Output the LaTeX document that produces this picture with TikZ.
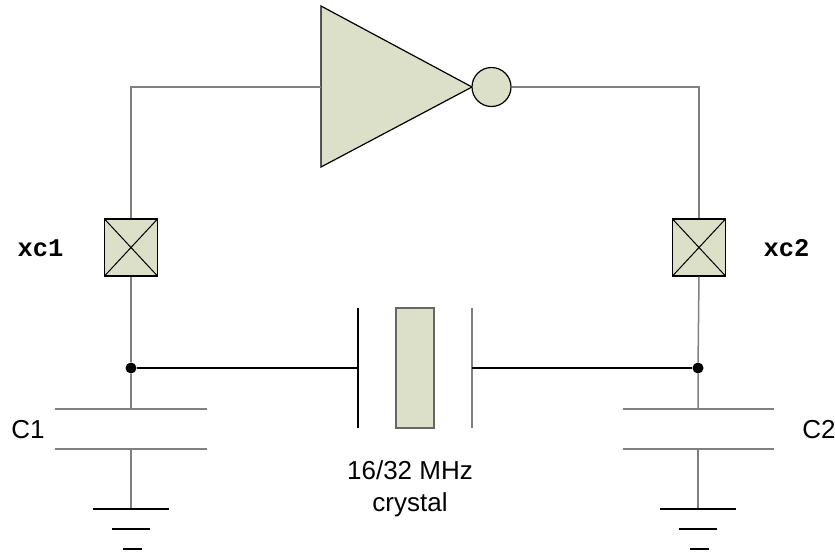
\documentclass[tikz,border=0pt]{standalone}
\usepackage{fontspec}
\setmainfont{Liberation Sans}
\setmonofont{Liberation Mono}
\begin{document}
\begin{tikzpicture}[x=1pt,y=-1pt,
  wire/.style={draw=wiregray,line width=1.5pt},
  bwire/.style={draw=black,line width=1.3pt},
  sym/.style={draw=black,fill=symfill,line width=1.2pt},
  pad/.style={sym,rectangle,minimum width=53pt,minimum height=57pt,inner sep=0pt,
    path picture={\draw[black,line width=1pt] (path picture bounding box.north west) -- (path picture bounding box.south east)
      (path picture bounding box.north east) -- (path picture bounding box.south west);}},
  bubble/.style={sym,circle,minimum size=39pt,inner sep=0pt},
  dotnode/.style={circle,fill=black,minimum size=11pt,inner sep=0pt},
  lbl/.style={font=\fontsize{26}{30}\selectfont,inner sep=0pt},
  pinlbl/.style={font=\fontsize{25.5}{28}\selectfont\ttfamily\bfseries,inner sep=0pt},
]
\definecolor{wiregray}{RGB}{128,128,128}
\definecolor{symfill}{RGB}{220,224,200}
\useasboundingbox (0,0) rectangle (835,552);

% inverter
\coordinate (inl) at (321,87);
\draw[sym] (321,6) -- (472,87) -- (321,167) -- cycle;
\node[bubble] (bub) at (491.5,87) {};

% pads
\node[pad] (p1) at (131,247.5) {};
\node[pad] (p2) at (699,247.5) {};
\node[pinlbl] (l1) at (40.5,248) {xc1};
\node[pinlbl] (l2) at (786.5,248) {xc2};

% top wires
\draw[wire] (p1.north) |- (inl);
\draw[wire] (bub.east) -| (p2.north);

% junctions
\node[dotnode] (d1) at (131,368) {};
\node[dotnode] (d2) at (698,368) {};

% capacitors
\coordinate (c1t) at (131,409);
\coordinate (c1b) at (131,449);
\coordinate (c2t) at (698,409);
\coordinate (c2b) at (698,449);
\draw[wire] (p1.south) -- (d1) -- (c1t);
\draw[wire] (p2.south) -- (d2) -- (c2t);
\draw[wire] (55,409) -- (207,409);
\draw[wire] (55,449) -- (207,449);
\draw[wire] (623,409) -- (774,409);
\draw[wire] (623,449) -- (774,449);
\node[lbl] (cl1) at (28,430) {C1};
\node[lbl] (cl2) at (819,430) {C2};

% grounds
\coordinate (g1) at (131,509);
\coordinate (g2) at (698,509);
\draw[wire] (c1b) -- (g1);
\draw[wire] (c2b) -- (g2);
\draw[bwire] (93,509) -- (169,509) (112,529) -- (150,529) (123,549) -- (142,549);
\draw[bwire] (660,509) -- (736,509) (679,529) -- (717,529) (690,549) -- (709,549);

% crystal
\coordinate (xl) at (358,368);
\coordinate (xr) at (472,368);
\draw[bwire] (358,308) -- (358,428);
\draw[wire] (472,308) -- (472,428);
\node[sym,draw=black!60,rectangle,minimum width=38pt,minimum height=120pt,inner sep=0pt] (xt) at (415,368) {};
\draw[bwire] (d1) -- (xl);
\draw[bwire] (xr) -- (d2);
\node[lbl] (xlab1) at (410,470) {16/32 MHz};
\node[lbl] (xlab2) at (410,505) {crystal};
\end{tikzpicture}
\end{document}
